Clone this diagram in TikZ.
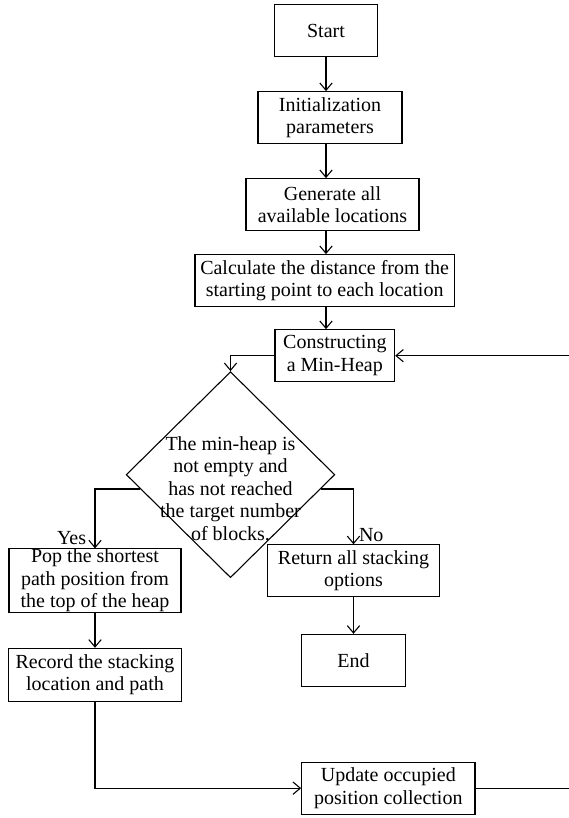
\documentclass[tikz,border=0pt]{standalone}
\usepackage{fontspec}
\setmainfont{Liberation Serif}
\usetikzlibrary{arrows.meta, shapes.geometric}

\begin{document}
\begin{tikzpicture}[font=\fontsize{12}{13.5}\selectfont, line width=0.65pt,
        block/.style = {draw, align=center, inner sep=0pt, minimum height=31.2pt},
        decision/.style = {draw, diamond, inner sep=0pt, minimum width=125.2pt, minimum height=123.6pt},
        flow/.style = {-{Straight Barb[length=4.4pt, width=7.4pt]}}]
            \useasboundingbox (0,0) rectangle (340.8pt,-490.8pt);

            \node[block, minimum width=62pt] (start) at (195.6pt,-18.4pt) {Start};
            \node[block, minimum width=86.4pt] (init) [below of=start, node distance=52.2pt, xshift=2.4pt] {Initialization\\parameters};
            \node[block, minimum width=103.8pt] (gen) [below of=init, node distance=52.2pt, xshift=1.5pt] {Generate all\\available locations};
            \node[block, minimum width=155.6pt] (calc) [below of=gen, node distance=45.6pt, xshift=-4.7pt] {Calculate the distance from the\\starting point to each location};
            \node[block, minimum width=71.8pt] (heap) [below of=calc, node distance=45pt, xshift=6.1pt] {Constructing\\a Min-Heap};
            \node[decision] (test) [below of=heap, node distance=71.4pt, xshift=-62.6pt] {};
            \node[align=center, inner sep=0pt] (testtext) at ([yshift=-8.4pt]test.center) {The min-heap is\\not empty and\\has not reached\\the target number\\of blocks.};
            \node[block, minimum width=103.2pt, minimum height=37pt] (pop) [below of=test, node distance=63.5pt, xshift=-81.3pt] {Pop the shortest\\path position from\\the top of the heap};
            \node[block, minimum width=103.6pt, minimum height=31.8pt] (record) [below of=pop, node distance=56.6pt] {Record the stacking\\location and path};
            \node[block, minimum width=103.4pt] (ret) [below of=test, node distance=57.7pt, xshift=73.8pt] {Return all stacking\\options};
            \node[block, minimum width=62.2pt] (end) [below of=ret, node distance=53.7pt] {End};
            \node[block, minimum width=104pt] (update) [below of=end, node distance=76.7pt, xshift=20.9pt] {Update occupied\\position collection};
            \coordinate (back) at (345pt,0);

            \path[flow] (start) edge (start |- init.north);
            \path[flow] (init.south -| start) edge (gen.north -| start);
            \path[flow] (gen.south -| start) edge (calc.north -| start);
            \path[flow] (calc.south -| start) edge (heap.north -| start);
            \draw[flow] (heap.west) -| (test.north);
            \draw[flow] (test.189) -| (pop.north) node[pos=1, anchor=south east, inner xsep=5pt, inner ysep=1.6pt] {Yes};
            \draw[flow] (test.351) -| (ret.north) node[pos=1, anchor=south west, inner xsep=3pt, inner ysep=1pt] {No};
            \path[flow] (pop) edge (record);
            \path[flow] (ret) edge (end);
            \draw[flow] (record.south) |- (update.west);
            \draw[flow] (update.east) -- (update.east -| back) |- (heap.east);

        \end{tikzpicture}
\end{document}
